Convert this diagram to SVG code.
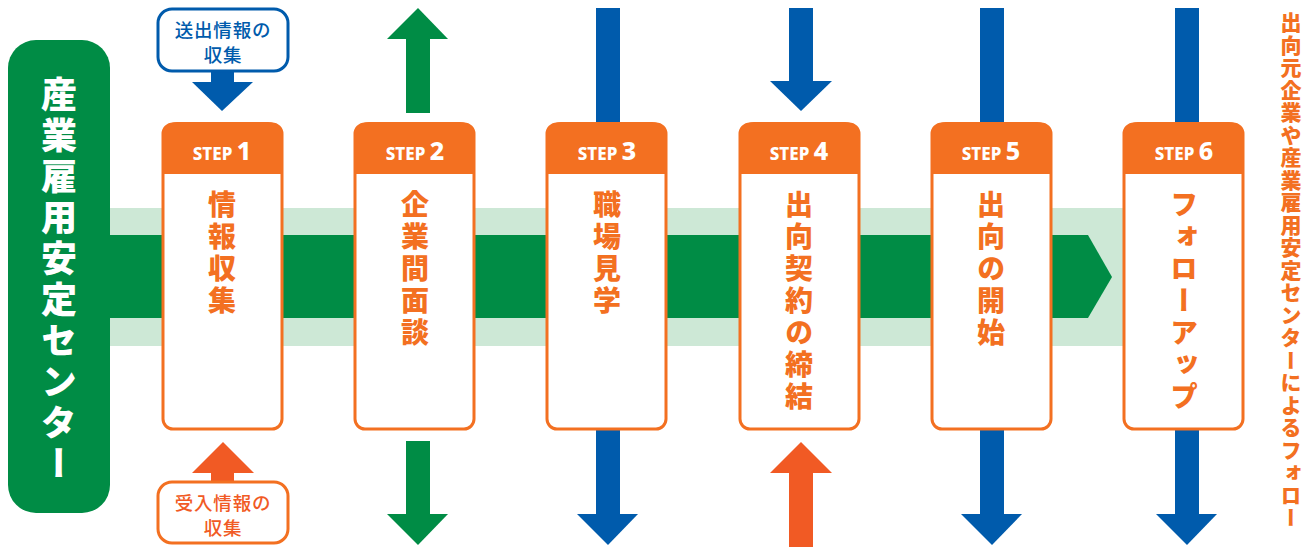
<svg xmlns="http://www.w3.org/2000/svg" width="1311" height="547" viewBox="0 0 1311 547">
<style>
.hd{fill:#F37021}
.bd{fill:#fff;stroke:#F37021;stroke-width:3}
.st{font-family:"Noto Sans","Noto Sans CJK JP",sans-serif;font-weight:800;fill:#fff;text-anchor:middle}
.vt{font-family:"Noto Sans CJK JP",sans-serif;font-weight:900;fill:#F37021;writing-mode:vertical-rl;font-size:28px;letter-spacing:4px}
.blue{fill:#005BAC}
.green{fill:#008C45}
.org{fill:#F15A24}
.cl{font-family:"Noto Sans CJK JP",sans-serif;font-weight:500;font-size:18.5px;letter-spacing:0.8px;text-anchor:middle}
</style>
<rect x="0" y="0" width="1311" height="547" fill="#fff"/>
<g id="band">
<rect x="108" y="208" width="1015" height="138" fill="#CDE8D6"/>
<polygon points="108,235 1088,235 1112,277 1088,318 108,318" fill="#008C45"/>
</g>
<g id="connectors">
<rect class="blue" x="211" y="70" width="23" height="13"/>
<polygon class="blue" points="192,82 253,82 222,111"/>
<polygon class="org" points="192,473 254,473 223,442"/>
<rect class="org" x="211" y="472" width="23" height="11"/>
<polygon class="green" points="387,39 448,39 418,8"/>
<rect class="green" x="406" y="38" width="24" height="75"/>
<rect class="green" x="406" y="441" width="24" height="74"/>
<polygon class="green" points="387,514 448,514 418,545"/>
<rect class="blue" x="596" y="8" width="24" height="116"/>
<rect class="blue" x="596" y="428" width="24" height="87"/>
<polygon class="blue" points="577,514 638,514 608,545"/>
<rect class="blue" x="789" y="8" width="24" height="74"/>
<polygon class="blue" points="770,81 832,81 801,111"/>
<polygon class="org" points="770,473 832,473 801,442"/>
<rect class="org" x="789" y="472" width="24" height="75"/>
<rect class="blue" x="980" y="8" width="24" height="116"/>
<rect class="blue" x="980" y="428" width="24" height="87"/>
<polygon class="blue" points="961,514 1022,514 992,545"/>
<rect class="blue" x="1175" y="8" width="24" height="116"/>
<rect class="blue" x="1175" y="428" width="24" height="87"/>
<polygon class="blue" points="1156,514 1217,514 1187,545"/>
</g>
<g id="center">
<rect x="8" y="40" width="102" height="473" rx="28" fill="#008C45"/>
<text x="59" y="76" font-family="Noto Sans CJK JP,sans-serif" font-weight="900" font-size="36" fill="#fff" style="writing-mode:vertical-rl;letter-spacing:5px">産業雇用安定センター</text>
</g>
<g id="callout-send">
<rect x="158" y="9" width="130" height="62" rx="14" fill="#fff" stroke="#005BAC" stroke-width="3"/>
<text class="cl" x="223" y="37" fill="#005BAC">送出情報の</text>
<text class="cl" x="223" y="62" fill="#005BAC">収集</text>
</g>
<g id="callout-recv">
<rect x="158" y="482" width="130" height="61" rx="14" fill="#fff" stroke="#F37021" stroke-width="3"/>
<text class="cl" x="223" y="510" fill="#F15A24">受入情報の</text>
<text class="cl" x="223" y="535" fill="#F15A24">収集</text>
</g>
<g id="step1">
<rect class="bd" x="163" y="124" width="119" height="305" rx="10"/>
<path class="hd" d="M162,174 V137 a15,15 0 0 1 15,-15 H268 a15,15 0 0 1 15,15 V174 Z"/>
<text class="st" x="222" y="160"><tspan font-size="17">STEP </tspan><tspan font-size="25">1</tspan></text>
<text class="vt" x="222" y="190">情報収集</text>
</g>
<g id="step2">
<rect class="bd" x="355" y="124" width="119" height="305" rx="10"/>
<path class="hd" d="M354,174 V137 a15,15 0 0 1 15,-15 H460 a15,15 0 0 1 15,15 V174 Z"/>
<text class="st" x="415" y="160"><tspan font-size="17">STEP </tspan><tspan font-size="25">2</tspan></text>
<text class="vt" x="415" y="190">企業間面談</text>
</g>
<g id="step3">
<rect class="bd" x="547" y="124" width="119" height="305" rx="10"/>
<path class="hd" d="M546,174 V137 a15,15 0 0 1 15,-15 H652 a15,15 0 0 1 15,15 V174 Z"/>
<text class="st" x="607" y="160"><tspan font-size="17">STEP </tspan><tspan font-size="25">3</tspan></text>
<text class="vt" x="607" y="190">職場見学</text>
</g>
<g id="step4">
<rect class="bd" x="740" y="124" width="119" height="305" rx="10"/>
<path class="hd" d="M739,174 V137 a15,15 0 0 1 15,-15 H845 a15,15 0 0 1 15,15 V174 Z"/>
<text class="st" x="799" y="160"><tspan font-size="17">STEP </tspan><tspan font-size="25">4</tspan></text>
<text class="vt" x="799" y="190">出向契約の締結</text>
</g>
<g id="step5">
<rect class="bd" x="932" y="124" width="119" height="305" rx="10"/>
<path class="hd" d="M931,174 V137 a15,15 0 0 1 15,-15 H1037 a15,15 0 0 1 15,15 V174 Z"/>
<text class="st" x="991" y="160"><tspan font-size="17">STEP </tspan><tspan font-size="25">5</tspan></text>
<text class="vt" x="991" y="190">出向の開始</text>
</g>
<g id="step6">
<rect class="bd" x="1124" y="124" width="119" height="305" rx="10"/>
<path class="hd" d="M1123,174 V137 a15,15 0 0 1 15,-15 H1229 a15,15 0 0 1 15,15 V174 Z"/>
<text class="st" x="1184" y="160"><tspan font-size="17">STEP </tspan><tspan font-size="25">6</tspan></text>
<text class="vt" x="1184" y="190">フォローアップ</text>
</g>
<g id="follow">
<text x="1291" y="12" font-family="Noto Sans CJK JP,sans-serif" font-weight="900" font-size="21" fill="#F37021" style="writing-mode:vertical-rl;letter-spacing:1.5px">出向元企業や産業雇用安定センターによるフォロー</text>
</g>
</svg>
